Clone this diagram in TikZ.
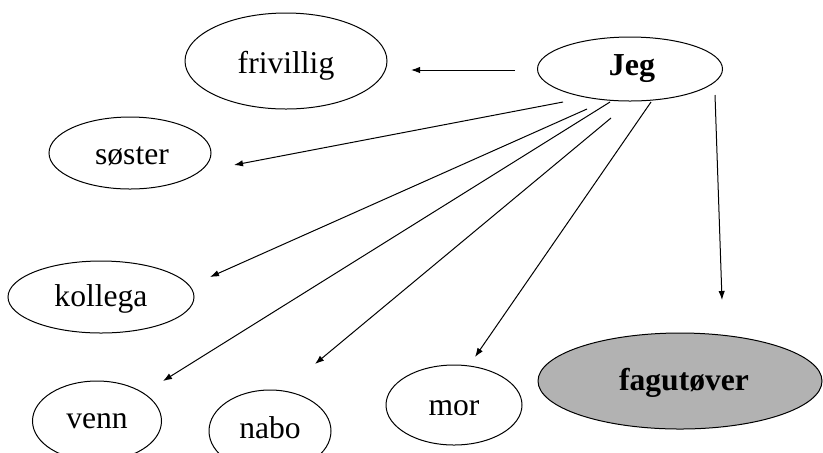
\documentclass[tikz,border=0pt]{standalone}
\usepackage{fontspec}
\setmainfont{Liberation Serif}
\usetikzlibrary{shapes.geometric,arrows.meta}
\begin{document}
\begin{tikzpicture}[x=0.5pt,y=-0.5pt,
  ell/.style={draw=black,ellipse,line width=0.5pt,inner sep=0pt},
  lbl/.style={inner sep=0pt,font=\fontsize{15.8}{19}\selectfont},
  arr/.style={line width=0.5pt,-{Latex[length=4.5pt,width=3.2pt]}}]
\useasboundingbox (0,0) rectangle (823,452);
% ellipses (sizes in pt = half of pixel sizes)
\node[ell,minimum width=101pt,minimum height=48pt] (friv) at (286,61) {};
\node[lbl] at (286,66) {frivillig};
\node[ell,minimum width=92.5pt,minimum height=32pt] (jeg) at (630,69) {};
\node[lbl,font=\fontsize{16}{19}\selectfont\bfseries] at (632,69) {Jeg};
\node[ell,minimum width=81pt,minimum height=36pt] (sos) at (130,153) {};
\node[lbl] at (132,156) {søster};
\node[ell,minimum width=93pt,minimum height=36pt] (kol) at (101,297) {};
\node[lbl] at (101,299) {kollega};
\node[ell,minimum width=64.5pt,minimum height=40pt] (ven) at (97,421) {};
\node[lbl] at (97,421) {venn};
\node[ell,minimum width=61pt,minimum height=41pt] (nab) at (270,431) {};
\node[lbl] at (270,428) {nabo};
\node[ell,minimum width=68pt,minimum height=40pt] (mor) at (454,405) {};
\node[lbl] at (454,408) {mor};
\node[ell,fill=black!30,minimum width=142pt,minimum height=48pt] (fag) at (680,381) {};
\node[lbl,font=\fontsize{15.8}{19}\selectfont\bfseries] at (684,383) {fagutøver};
% connector ends
\coordinate (s1) at (515,70);  \coordinate (e1) at (411,70);
\coordinate (s2) at (563,102); \coordinate (e2) at (234,165);
\coordinate (s3) at (587,109); \coordinate (e3) at (210,277);
\coordinate (s4) at (610,102); \coordinate (e4) at (163,381);
\coordinate (s5) at (611,118); \coordinate (e5) at (315,364);
\coordinate (s6) at (651,102); \coordinate (e6) at (475,357);
\coordinate (s7) at (715,95);  \coordinate (e7) at (722,300);
\draw[arr] (s1) -- (e1);
\draw[arr] (s2) -- (e2);
\draw[arr] (s3) -- (e3);
\draw[arr] (s4) -- (e4);
\draw[arr] (s5) -- (e5);
\draw[arr] (s6) -- (e6);
\draw[arr] (s7) -- (e7);
\end{tikzpicture}
\end{document}
